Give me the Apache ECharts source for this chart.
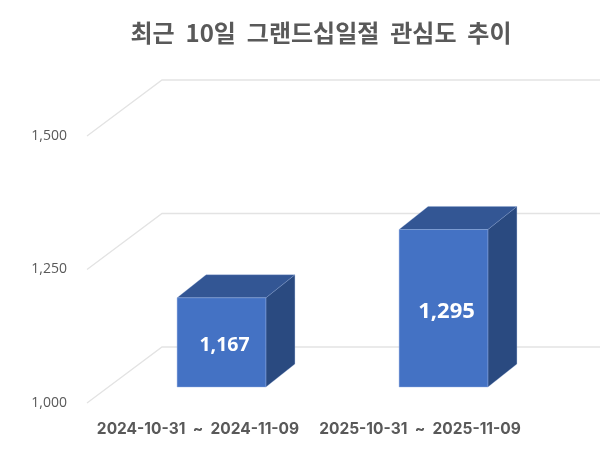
<!DOCTYPE html>
<html><head><meta charset="utf-8">
<style>html,body{margin:0;padding:0;background:#fff}#c{width:600px;height:462px}</style>
<script src="https://cdn.jsdelivr.net/npm/echarts@6/dist/echarts.min.js"></script>
</head><body><div id="c"></div>
<script>
const titleText = '최근 10일 그랜드십일절 관심도 추이';
const categories = ['2024-10-31 ~ 2024-11-09', '2025-10-31 ~ 2025-11-09'];
const values = [1167, 1295];
const yTicks = [1000, 1250, 1500];
const labelSizes = [19.5, 22];

const FONT_KR = '"Noto Sans CJK KR", "Noto Sans", sans-serif';
const FONT_NUM = '"Open Sans", "Noto Sans", sans-serif';
const WALL_DX = 75, WALL_DY = -56;     // depth of the chart's floor
const BAR_SHIFT_X = 23.5, BAR_SHIFT_Y = -16; // bar's position inside the depth
const BAR_DX = 29, BAR_DY = -23;       // depth of a bar
const BAR_RATIO = 0.4;
const widen = s => s.replace(/ /g, '  ');

const chart = echarts.init(document.getElementById('c'), null, {renderer: 'canvas'});

function renderWall(params, api) {
  const y = api.coord([0, api.value(1)])[1];
  const cs = params.coordSys;
  const x0 = cs.x, x1 = cs.x + cs.width;
  return {
    type: 'polyline',
    shape: {points: [[x0, y], [x0 + WALL_DX, y + WALL_DY], [x1 + WALL_DX, y + WALL_DY]]},
    style: {fill: 'none', stroke: '#E3E3E3', lineWidth: 1.3}
  };
}

function renderBar(params, api) {
  const i = api.value(0), v = api.value(1);
  const w = api.size([1, 0])[0] * BAR_RATIO;
  const top = api.coord([i, v]);
  const base = api.coord([i, yTicks[0]]);
  const x0 = top[0] - w / 2 + BAR_SHIFT_X, x1 = x0 + w;
  const yt = top[1] + BAR_SHIFT_Y, yb = base[1] + BAR_SHIFT_Y;
  const poly = (points, fill, stroke) => ({type: 'polygon', shape: {points}, style: {fill, stroke, lineWidth: 0.6}});
  return {
    type: 'group',
    children: [
      poly([[x1, yt], [x1 + BAR_DX, yt + BAR_DY], [x1 + BAR_DX, yb + BAR_DY], [x1, yb]], '#2A4A80', 'rgba(140,165,215,0.45)'),
      poly([[x0, yt], [x0 + BAR_DX, yt + BAR_DY], [x1 + BAR_DX, yt + BAR_DY], [x1, yt]], '#335694', 'rgba(140,165,215,0.45)'),
      poly([[x0, yt], [x1, yt], [x1, yb], [x0, yb]], '#4472C4', 'rgba(150,175,225,0.7)'),
      {
        type: 'text',
        style: {
          x: (x0 + x1) / 2 + 3, y: (yt + yb) / 2 + 3,
          text: echarts.format.addCommas(v),
          fill: '#fff',
          font: 'bold ' + labelSizes[params.dataIndex] + 'px ' + FONT_NUM,
          align: 'center', verticalAlign: 'middle'
        }
      }
    ]
  };
}

chart.setOption({
  animation: false,
  backgroundColor: '#fff',
  title: {
    text: widen(titleText), left: 316, top: 16, textAlign: 'center',
    textStyle: {fontFamily: FONT_KR, fontSize: 24, fontWeight: 'bold', color: '#595959'}
  },
  grid: {left: 87, width: 444, top: 136, height: 267},
  xAxis: {
    type: 'category', data: categories,
    axisLine: {show: false}, axisTick: {show: false}, splitLine: {show: false},
    axisLabel: {interval: 0, margin: 18, fontFamily: 'Inter, "Open Sans", sans-serif', fontSize: 15.5, fontWeight: 'bold', color: '#595959',
      formatter: widen}
  },
  yAxis: {
    type: 'value', min: 1000, max: 1500, interval: 250,
    axisLine: {show: false}, axisTick: {show: false}, splitLine: {show: false},
    axisLabel: {margin: 20, padding: [4, 0, 0, 0], fontFamily: FONT_NUM, fontSize: 14, color: '#595959',
      formatter: v => echarts.format.addCommas(v)}
  },
  series: [
    {type: 'custom', silent: true, z: 1, clip: false, renderItem: renderWall,
     data: yTicks.map(t => [0, t]), encode: {x: 0, y: 1}},
    {type: 'custom', silent: true, z: 2, clip: false, renderItem: renderBar,
     data: values.map((v, i) => [i, v]), encode: {x: 0, y: 1}}
  ]
});
</script></body></html>
